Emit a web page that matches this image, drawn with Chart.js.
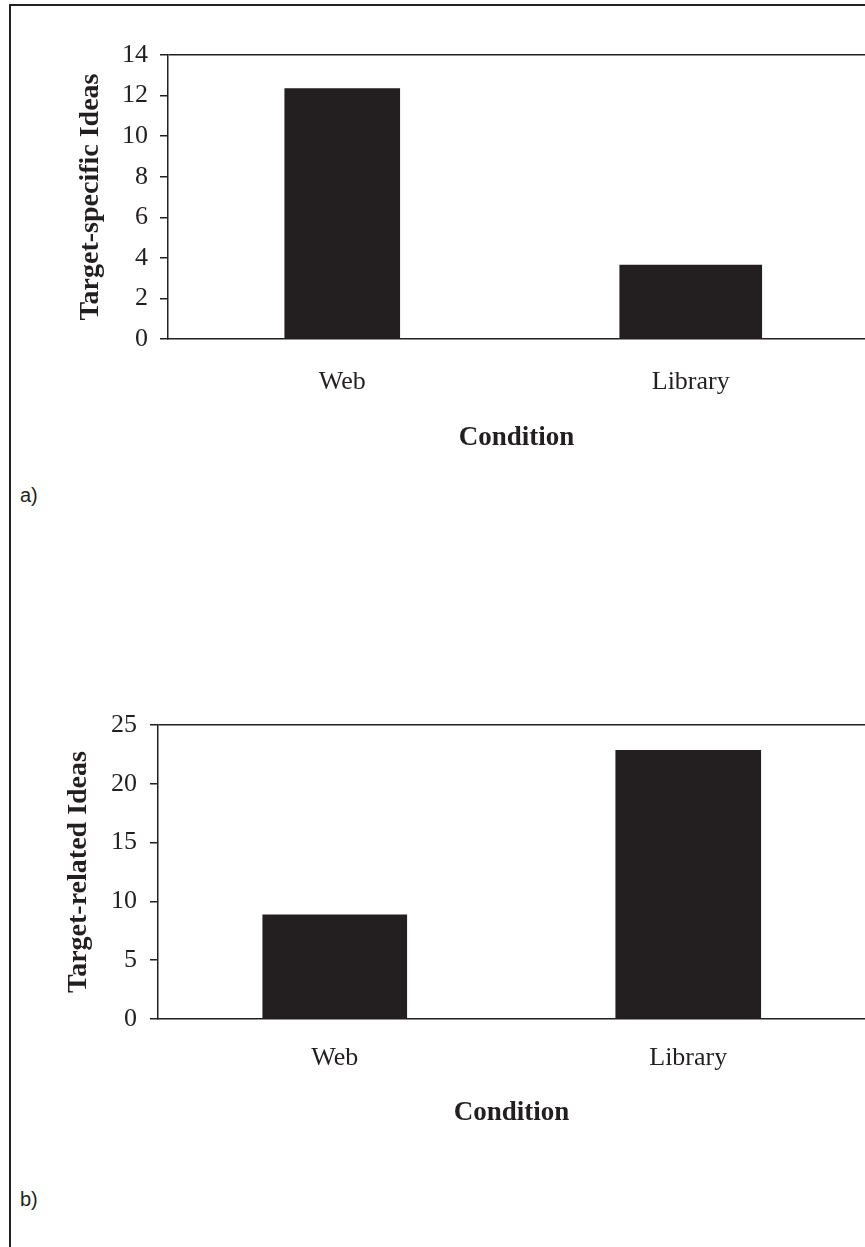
<!DOCTYPE html>
<html>
<head>
<meta charset="utf-8">
<script src="https://cdn.jsdelivr.net/npm/chart.js@4/dist/chart.umd.min.js"></script>
<style>
  html, body { margin: 0; padding: 0; background: #fff; }
  body { width: 865px; height: 1247px; position: relative; overflow: hidden; }
  .frame { position: absolute; left: 9px; top: 4px; right: -4px; bottom: -4px;
           border-left: 2px solid #222; border-top: 2px solid #222; }
  .box { position: absolute; left: 0; width: 865px; height: 470px; }
  .tag { position: absolute; left: 20px; font: 20px "Liberation Sans", Arial, sans-serif; color: #231f20; }
</style>
</head>
<body>
<div class="frame"></div>
<div class="box" style="top:0"><canvas id="chart-a"></canvas></div>
<div class="box" style="top:670px"><canvas id="chart-b"></canvas></div>
<div class="tag" style="top:484px">a)</div>
<div class="tag" style="top:1188px">b)</div>
<script>
const categories = ["Web", "Library"];
const specificIdeas = [12.35, 3.65];
const relatedIdeas = [8.85, 22.85];
const xTitle = "Condition";

const INK = "#231f20";
const serif = "'Liberation Serif', 'Times New Roman', serif";

// one dataset per bar so each bar can keep its own width
function barSets(values, widths) {
  return values.map((v, i) => ({
    data: values.map((_, j) => (j === i ? v : null)),
    backgroundColor: INK,
    barThickness: widths[i],
    grouped: false,
  }));
}

function makeChart(id, cfg) {
  return new Chart(document.getElementById(id), {
    type: "bar",
    data: { labels: categories, datasets: barSets(cfg.values, cfg.widths) },
    options: {
      responsive: true,
      maintainAspectRatio: false,
      animation: false,
      layout: { padding: { top: 55, left: 0, right: 0, bottom: 0 } },
      plugins: { legend: { display: false }, tooltip: { enabled: false } },
      scales: {
        x: {
          grid: { display: false, drawTicks: false },
          border: { display: true, color: INK, width: 1.5 },
          ticks: { color: INK, font: { family: serif, size: 26 }, padding: cfg.xPad },
          // bottom titles are offset by padding.bottom
          title: { display: true, text: xTitle, color: INK, padding: { top: 0, bottom: cfg.xTitlePad },
                   font: { family: serif, size: 27, weight: "bold" } },
          afterFit: (s) => { s.height = cfg.xHeight; },
        },
        y: {
          min: 0,
          max: cfg.max,
          grid: {
            color: (c) => (c.tick && c.tick.value === cfg.max ? INK : "transparent"),
            tickColor: INK,
            tickLength: 8,
            lineWidth: 1.5,
          },
          border: { display: true, color: INK, width: 1.5 },
          ticks: { stepSize: cfg.step, color: INK, padding: cfg.yPad, font: { family: serif, size: 26 } },
          title: { display: true, text: cfg.yTitle, color: INK, padding: { top: cfg.yTitlePad, bottom: 0 },
                   font: { family: serif, size: 28, weight: "bold" } },
          afterFit: (s) => { s.width = cfg.yWidth; },
        },
      },
    },
  });
}

makeChart("chart-a", {
  values: specificIdeas, widths: [115, 142], max: 14, step: 2,
  yTitle: "Target-specific Ideas", yWidth: 168, yTitlePad: 74, yPad: 12,
  xHeight: 131, xPad: 28, xTitlePad: 16,
});

makeChart("chart-b", {
  values: relatedIdeas, widths: [144, 145], max: 25, step: 5,
  yTitle: "Target-related Ideas", yWidth: 158, yTitlePad: 62, yPad: 13,
  xHeight: 121, xPad: 24, xTitlePad: 11,
});
</script>
</body>
</html>
